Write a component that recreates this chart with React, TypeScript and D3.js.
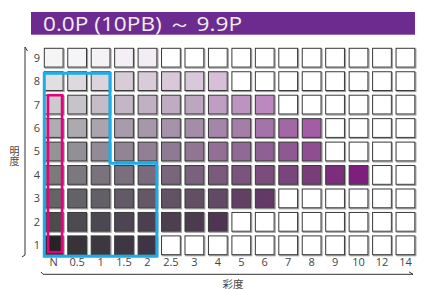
import * as d3 from 'd3';
import React, { useRef, useEffect } from 'react';

const title = "0.0P (10PB) ～ 9.9P";
const chromaLabels = ["N", "0.5", "1", "1.5", "2", "2.5", "3", "4", "5", "6", "7", "8", "9", "10", "12", "14"];
const valueLevels = [9, 8, 7, 6, 5, 4, 3, 2, 1];

// colours per value row, from chroma N upwards (missing = no colour)
const row9 = ["#f5f5f6", "#f5f4f6", "#f4f2f5", "#f4eef5", "#f2ecf4"];
const row8 = ["#e0e0e2", "#ddd9de", "#dcd3de", "#d8ccd9", "#d9cbda", "#d8c8d9", "#d9c7db", "#d7bfda"];
const row7 = ["#cbcbce", "#c6c4c9", "#c4bcc6", "#c3b6c5", "#c1b0c3", "#bfacc2", "#bca6c0", "#c09ec4", "#be93c1", "#bc88bf"];
const row6 = ["#adaeb1", "#acaaaf", "#aba3ae", "#a89cac", "#a697aa", "#a692ab", "#a58ca9", "#a685aa", "#a47da9", "#a473a8", "#a467a6", "#a45da4"];
const row5 = ["#939496", "#929097", "#928a96", "#918594", "#927f96", "#8f7a93", "#917592", "#936f96", "#926896", "#8f6093", "#905893", "#8e4e91"];
const row4 = ["#7a7b7d", "#7b797e", "#7a737d", "#7b6f7e", "#7a6a7d", "#79657c", "#7a617d", "#7a5a7d", "#7b547e", "#7a4d7c", "#7a457c", "#793d7a", "#7c2d7e", "#7e1f80"];
const row3 = ["#636466", "#626267", "#635f66", "#625a66", "#655766", "#625364", "#624f64", "#624a66", "#623f63", "#633a66"];
const row2 = ["#4b4c4e", "#4b4b50", "#4c4851", "#4d4552", "#4c3f4f", "#4d3f50", "#4c3a4f", "#4f3553"];
const row1 = ["#252324", "#373337", "#3d383f", "#3e3643", "#3f3444"];
const rowColors = [row9, row8, row7, row6, row5, row4, row3, row2, row1];

function MunsellChart({ width, height }) {
    const ref = useRef();

    useEffect(() => {
        draw();
    }, []);

    const draw = () => {
        const svg = d3.select(ref.current);
        svg.selectAll("*").remove();

        const x = d3.scaleBand()
            .domain(chromaLabels)
            .range([41.95, 417.15])
            .paddingInner(0.2)
            .paddingOuter(0.1);
        const y = d3.scaleBand()
            .domain(valueLevels.map(String))
            .range([45.95, 257])
            .paddingInner(0.2)
            .paddingOuter(0.1);
        const bw = x.bandwidth();
        const bh = y.bandwidth();

        // title bar
        svg.append("rect")
            .attr("x", 31).attr("y", 12)
            .attr("width", 384).attr("height", 22.7)
            .attr("fill", "#6c2c8f");
        svg.append("text")
            .attr("x", 43).attr("y", 31)
            .attr("font-family", "'Open Sans', sans-serif")
            .attr("font-size", 19.5)
            .attr("fill", "#f3ecf6")
            .attr("textLength", 199)
            .attr("lengthAdjust", "spacingAndGlyphs")
            .text(title);

        const cells = [];
        valueLevels.forEach((v, i) => {
            chromaLabels.forEach((c, j) => {
                cells.push({ v: String(v), c, color: rowColors[i][j] || "#ffffff" });
            });
        });

        const g = svg.append("g");
        g.selectAll("rect.shadow")
            .data(cells)
            .join("rect")
            .attr("class", "shadow")
            .attr("x", d => x(d.c) + 1)
            .attr("y", d => y(d.v) + 1)
            .attr("width", bw)
            .attr("height", bh)
            .attr("fill", "none")
            .attr("stroke", "#a0a0a0")
            .attr("stroke-width", 1.3);
        g.selectAll("rect.cell")
            .data(cells)
            .join("rect")
            .attr("class", "cell")
            .attr("x", d => x(d.c))
            .attr("y", d => y(d.v))
            .attr("width", bw)
            .attr("height", bh)
            .attr("fill", d => d.color)
            .attr("stroke", "#3a3a3a")
            .attr("stroke-width", 1);

        // blue outline
        const xl = x("N"), x1 = x("1") + bw, x2 = x("2") + bw;
        const yt = y("8") + 1.5, ym = (y("5") + bh + y("4")) / 2, yb = y("1") + bh + 1.5;
        svg.append("path")
            .attr("d", `M${xl},${yt}L${x1},${yt}L${x1},${ym}L${x2},${ym}L${x2},${yb}L${xl},${yb}Z`)
            .attr("fill", "none")
            .attr("stroke", "#1badea")
            .attr("stroke-width", 3);

        // magenta outline
        svg.append("rect")
            .attr("x", x("N") + 3.7)
            .attr("y", y("7"))
            .attr("width", bw - 4.7)
            .attr("height", y("1") + bh - 2.5 - y("7"))
            .attr("fill", "none")
            .attr("stroke", "#e6007e")
            .attr("stroke-width", 2.6);

        // axis lines
        svg.append("path")
            .attr("d", "M22,257L25,255L25,47L27.5,51")
            .attr("fill", "none").attr("stroke", "#333").attr("stroke-width", 1);
        svg.append("path")
            .attr("d", "M41,272L43,274.3L413,274.3L409,271.8")
            .attr("fill", "none").attr("stroke", "#333").attr("stroke-width", 1);

        // tick labels
        svg.append("g")
            .selectAll("text")
            .data(valueLevels)
            .join("text")
            .attr("x", 40)
            .attr("y", d => y(String(d)) + bh / 2 + 4)
            .attr("text-anchor", "end")
            .attr("font-family", "'Open Sans', sans-serif")
            .attr("font-size", 11)
            .attr("fill", "#444")
            .text(d => d);
        svg.append("g")
            .selectAll("text")
            .data(chromaLabels)
            .join("text")
            .attr("x", d => x(d) + bw / 2)
            .attr("y", 266)
            .attr("text-anchor", "middle")
            .attr("font-family", "'Open Sans', sans-serif")
            .attr("font-size", 11)
            .attr("fill", "#444")
            .text(d => d);

        // axis titles
        svg.append("text")
            .attr("x", 233).attr("y", 287.5)
            .attr("text-anchor", "middle")
            .attr("font-family", "'Noto Sans CJK JP', sans-serif")
            .attr("font-size", 10.5)
            .attr("fill", "#444")
            .text("彩度");
        svg.append("text")
            .attr("x", 14.5).attr("y", 146)
            .attr("font-family", "'Noto Sans CJK JP', sans-serif")
            .attr("font-size", 10)
            .attr("fill", "#444")
            .attr("writing-mode", "vertical-rl")
            .attr("text-anchor", "start")
            .text("明度");
    };

    return (
        <svg ref={ref} width={width} height={height}
            style={{ position: "absolute", left: 0, top: 0, background: "#fff" }}>
        </svg>
    );
}

export default function App() {
    return <MunsellChart width={425} height={289} />;
}
